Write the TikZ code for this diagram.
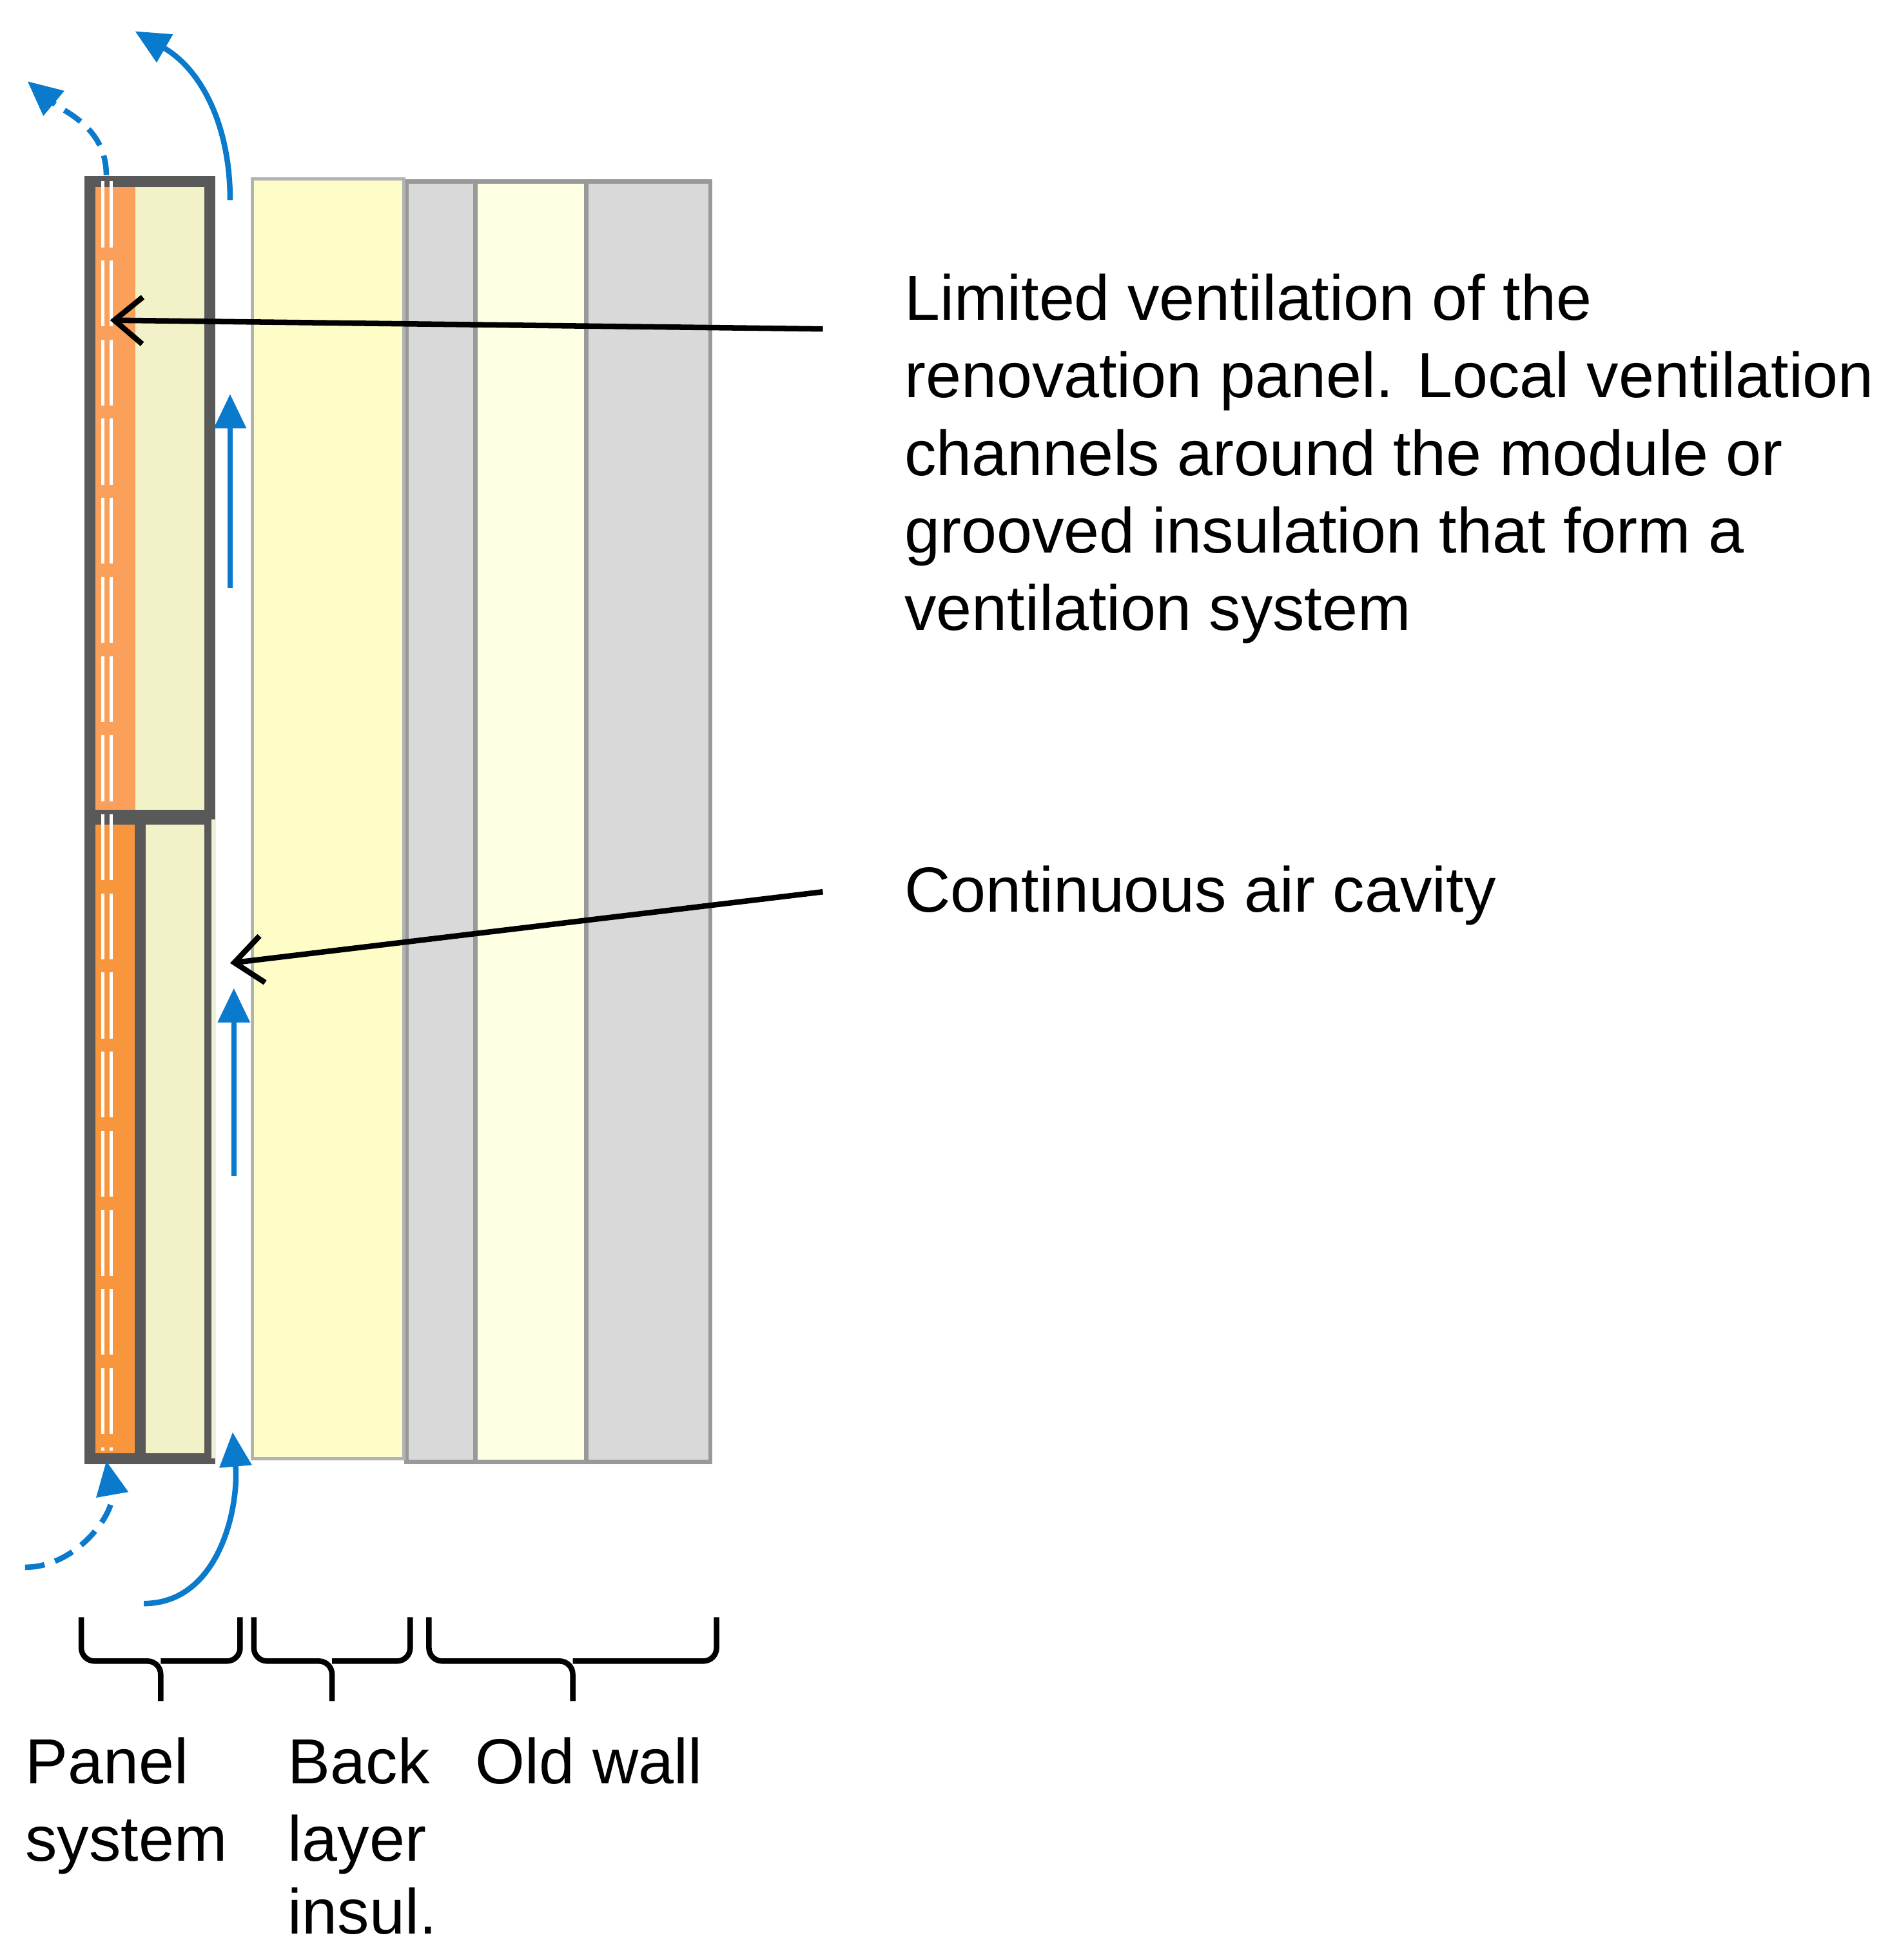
\documentclass[tikz,border=0pt]{standalone}
\usepackage{fontspec}
\setmainfont{Liberation Sans}
\usetikzlibrary{arrows.meta}
\definecolor{airblue}{RGB}{10,122,204}
\definecolor{panelorange}{RGB}{250,160,90}
\definecolor{panelorangedark}{RGB}{247,150,60}
\definecolor{insolive}{RGB}{242,242,200}
\definecolor{backyellow}{RGB}{254,253,200}
\definecolor{wallgray}{RGB}{217,217,217}
\definecolor{walllight}{RGB}{255,255,228}
\definecolor{framegray}{RGB}{89,89,89}
\tikzset{
  layer/.style={draw=gray!80, line width=2pt},
  frame/.style={draw=framegray, line width=5pt},
  airflow/.style={airblue, line width=2.5pt, -{Triangle[length=0.55cm,width=0.5cm]}},
  leak/.style={dash pattern=on 9pt off 5pt},
  pointer/.style={black, line width=2.5pt, -{Straight Barb[length=0.45cm,width=0.75cm]}},
  label/.style={anchor=base west, inner sep=0pt, font=\fontsize{29}{33}\selectfont},
  grp/.style={line width=2.5pt, rounded corners=6pt}
}
% group brace from x=#1 to x=#2
\newcommand{\groupbrace}[2]{%
  \draw[grp] (#1,1293) -- (#1,1328) -- ({(#1+#2)/2},1328) -- ({(#1+#2)/2},1360);
  \draw[grp] (#2,1293) -- (#2,1328) -- ({(#1+#2)/2},1328);
}
\begin{document}
\begin{tikzpicture}[x=0.02cm, y=-0.02cm]
    \useasboundingbox (0,0) rectangle (1511,1567);
    % Old wall and back layer
    \fill[wallgray, layer] (325,145) rectangle (380,1169);
    \fill[walllight, layer] (380,145) rectangle (469,1169);
    \fill[wallgray, layer] (469,145) rectangle (568,1169);
    \fill[backyellow, draw=gray!60, line width=1.5pt] (202,143) rectangle (323,1166);

    % Upper module
    \fill[panelorange] (75,145) rectangle (108,652);
    \fill[insolive] (108,145) rectangle (168,652);
    \draw[frame] (72,145) rectangle (168,652);
    % Lower module
    \fill[panelorangedark] (75,655) rectangle (112,1166);
    \fill[insolive] (112,655) rectangle (168,1166);
    \draw[frame] (72,655) rectangle (168,1166);
    \draw[frame] (112,655) -- (112,1166);
    \draw[draw=backyellow!60!olive!30, line width=2pt] (171,655) -- (171,1166);
    % Ventilation channels
    \foreach \x in {82,89} {
        \draw[white, line width=1.5pt, dash pattern=on 30pt off 6pt] (\x,145) -- (\x,1160);
    }

    % Named points for the air flow
    \coordinate (topin) at (184,160);
    \coordinate (topout) at (108,25);
    \coordinate (chin) at (85,140);
    \coordinate (chout) at (22,65);
    \coordinate (botin) at (115,1282);
    \coordinate (botout) at (186,1145);
    \coordinate (chbotin) at (20,1253);
    \coordinate (chbotout) at (85,1168);
    \coordinate (cavA1) at (184,470);
    \coordinate (cavA2) at (184,315);
    \coordinate (cavB1) at (187,940);
    \coordinate (cavB2) at (187,790);
    \coordinate (ventpt) at (88,256);
    \coordinate (cavpt) at (184,770);

    \draw[airflow] (topin) to[out=90, in=-30] (topout);
    \draw[airflow, leak] (chin) to[out=90, in=-40] (chout);
    \draw[airflow] (botin) to[out=0, in=-85] (botout);
    \draw[airflow, leak] (chbotin) to[out=0, in=-80] (chbotout);
    \draw[airflow] (cavA1) -- (cavA2);
    \draw[airflow] (cavB1) -- (cavB2);

    % Descriptions
    \node[label] (vent) at (723,256) {Limited ventilation of the};
    \node[label] at (723,318) {renovation panel. Local ventilation};
    \node[label] at (723,380) {channels around the module or};
    \node[label] at (723,442) {grooved insulation that form a};
    \node[label] at (723,504) {ventilation system};
    \node[label] (cav) at (723,729) {Continuous air cavity};
    \coordinate (ventfrom) at (658,263);
    \coordinate (cavfrom) at (658,713);
    \draw[pointer] (ventfrom) -- (ventpt);
    \draw[pointer] (cavfrom) -- (cavpt);

    % Groups
    \groupbrace{65}{192}
    \groupbrace{203}{328}
    \groupbrace{343}{573}
    \node[label] (panel) at (20,1426) {Panel};
    \node[label] at (20,1488) {system};
    \node[label] (back) at (230,1426) {Back};
    \node[label] at (230,1488) {layer};
    \node[label] at (230,1546) {insul.};
    \node[label] (old) at (380,1426) {Old wall};
\end{tikzpicture}
\end{document}
